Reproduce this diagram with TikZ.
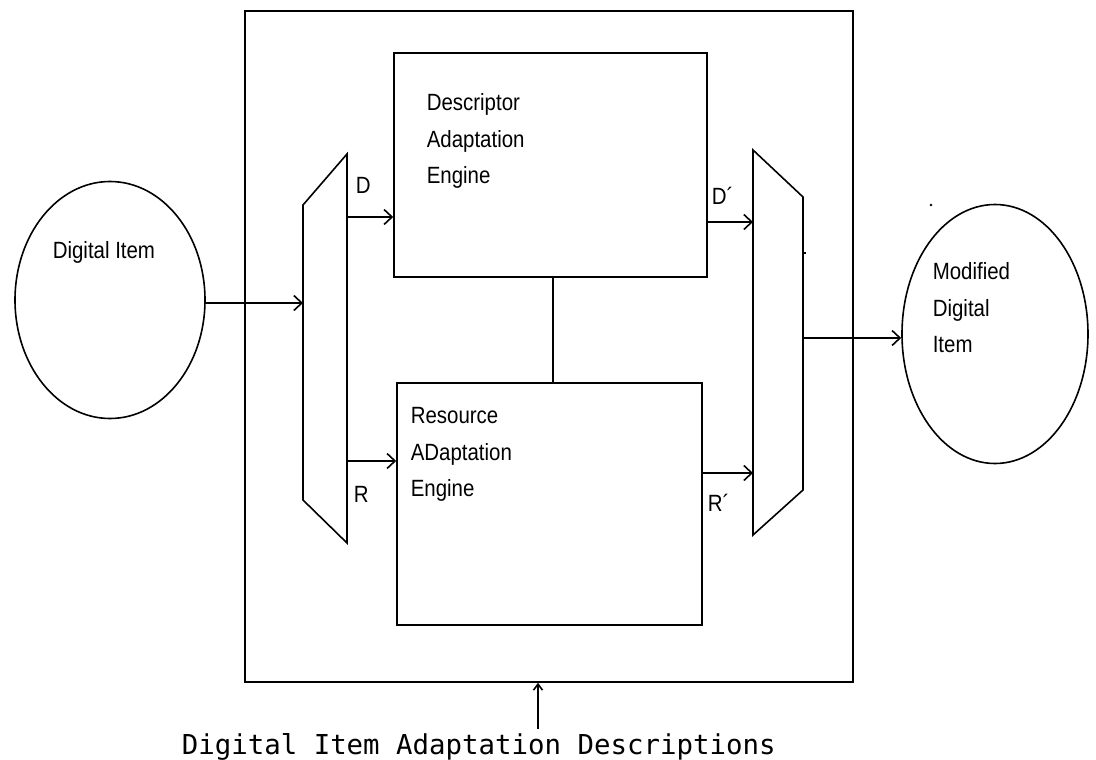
\documentclass[tikz,border=0pt]{standalone}
\usepackage{fontspec}
\usetikzlibrary{arrows.meta,shapes.geometric}
\newfontfamily\lblfont{Liberation Sans}[FakeStretch=0.87]
\newfontfamily\capfont{DejaVu Sans Mono}
\begin{document}
\begin{tikzpicture}[x=1pt,y=-1pt,
  line width=1.6pt,
  flow/.style={-{Straight Barb[length=8pt,width=15pt,line width=1.6pt]}},
  flowsmall/.style={-{Straight Barb[length=6pt,width=9pt,line width=1.6pt]}},
  lbl/.style={font=\lblfont\fontsize{23.5}{36.5}\selectfont, align=left, inner sep=0pt},
  engine/.style={draw, rectangle, inner sep=0pt},
  item/.style={draw, ellipse, inner sep=0pt}]
\useasboundingbox[fill=white] (0,0) rectangle (1096,760);

% adaptation engine frame and the two engines
\node[engine, minimum width=608, minimum height=671] (dia) at (549,346.5) {};
\node[engine, minimum width=313, minimum height=224] (desc) at (550.5,165) {};
\node[engine, minimum width=305, minimum height=242] (res) at (549.5,504) {};

% input and output items
\node[item, minimum width=190, minimum height=237] (src) at (110,300) {};
\node[item, minimum width=186, minimum height=259] (dst) at (995,334) {};

% splitter and merger
\draw (303,205) coordinate (spA) -- (347,154) -- (347,543) -- (303,500) -- cycle;
\draw (753,150) -- (803,197) -- (803,490) -- (753,535) -- cycle;

\coordinate (splitin) at (303,303);
\coordinate (dout) at (347,217);
\coordinate (rout) at (347,461);
\coordinate (dpin) at (753,222);
\coordinate (rpin) at (753,473);
\coordinate (mout) at (803,338);
\coordinate (link) at (553,0);
\coordinate (dsrc) at (538,729);

% connectors
\draw[flow] (src.east |- splitin) -- (splitin);
\draw[flow] (dout) -- (desc.west |- dout);
\draw[flow] (rout) -- (res.west |- rout);
\draw[flow] (desc.east |- dpin) -- (dpin);
\draw[flow] (res.east |- rpin) -- (rpin);
\draw[flow] (mout) -- (dst.west |- mout);
\draw (desc.south -| link) -- (res.north -| link);
\draw[flowsmall] (dsrc) -- (dia.south -| dsrc);

% stray marks
\fill (931,205) circle (1.3);
\draw[line width=1.2pt] (803,253) -- (806,253);

% labels
\node[lbl, anchor=north west] (descl) at (426,93) {Descriptor\\Adaptation\\Engine};
\node[lbl, anchor=north west] (resl) at (410,407) {Resource\\ADaptation\\Engine};
\node[lbl, anchor=north west] (srcl) at (52,241) {Digital Item};
\node[lbl, anchor=north west] (dstl) at (932,262) {Modified\\Digital\\Item};
\node[lbl, anchor=north west] (dl) at (355,177) {D};
\node[lbl, anchor=north west] (rl) at (353,486) {R};
\node[lbl, anchor=north west] (dpl) at (711,186) {D´};
\node[lbl, anchor=north west] (rpl) at (707,493) {R´};
\node[font=\capfont\fontsize{27.4}{30}\selectfont, inner sep=0pt, anchor=base west] (cap) at (181,754) {Digital Item Adaptation Descriptions};
\end{tikzpicture}
\end{document}
